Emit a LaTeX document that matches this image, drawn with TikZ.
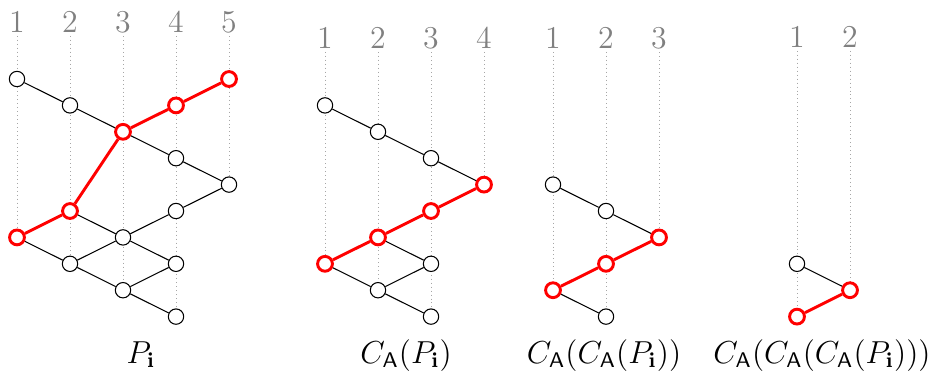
\documentclass[tikz,border=0pt]{standalone}
\usepackage{amsmath}
\begin{document}
\begin{tikzpicture}[x=0.3774pt,y=-0.3774pt,
  vtx/.style={circle,draw=black,fill=white,line width=0.4pt,minimum size=5.8pt,inner sep=0pt},
  vtxr/.style={circle,draw=red,fill=white,line width=1.1pt,minimum size=5.6pt,inner sep=0pt},
  edg/.style={draw=black,line width=0.4pt},
  edgr/.style={draw=red,line width=1.1pt},
  guide/.style={draw=gray!70,line width=0.35pt,dash pattern=on 0.35pt off 1.15pt},
  lbl/.style={text=gray,font=\large,inner sep=1pt},
  captxt/.style={anchor=base,inner sep=0pt,font=\large}]
\useasboundingbox (0,0) rectangle (933,374);
% ---------- Diagram 1 ----------
\foreach \i/\x in {1/17,2/70,3/123,4/176,5/229}{\node[lbl] (La\i) at (\x,22) {\i};}
\coordinate (ga1) at (17,237.4);
\coordinate (ga2) at (70,263.8);
\coordinate (ga3) at (123,290.2);
\coordinate (ga4) at (176,316.6);
\coordinate (ga5) at (229,184.6);
\foreach \i in {1,...,5}{\draw[guide] (La\i.south) -- (ga\i);}
\node[vtx] (a1) at (17,79) {};
\node[vtx] (a2) at (70,105.4) {};
\node[vtxr] (a3) at (123,131.8) {};
\node[vtxr] (a4) at (176,105.4) {};
\node[vtxr] (a5) at (229,79) {};
\node[vtx] (a6) at (176,158.2) {};
\node[vtx] (a7) at (229,184.6) {};
\node[vtx] (a8) at (176,211) {};
\node[vtxr] (a9) at (70,211) {};
\node[vtxr] (a10) at (17,237.4) {};
\node[vtx] (a11) at (123,237.4) {};
\node[vtx] (a12) at (70,263.8) {};
\node[vtx] (a13) at (176,263.8) {};
\node[vtx] (a14) at (123,290.2) {};
\node[vtx] (a15) at (176,316.6) {};
\foreach \u/\v in {a1/a2,a2/a3,a3/a6,a6/a7,a7/a8,a8/a11,a11/a12,a9/a11,a11/a13,a10/a12,a12/a14,a13/a14,a14/a15}{\draw[edg] (\u) -- (\v);}
\foreach \u/\v in {a10/a9,a9/a3,a3/a4,a4/a5}{\draw[edgr] (\u) -- (\v);}
\node[captxt] (ca) at (141,363) {$P_{\mathbf{i}}$};
% ---------- Diagram 2 ----------
\foreach \i/\x in {1/325,2/378,3/431,4/484}{\node[lbl] (Lb\i) at (\x,38) {\i};}
\coordinate (gb1) at (325,263.8);
\coordinate (gb2) at (378,290.2);
\coordinate (gb3) at (431,316.6);
\coordinate (gb4) at (484,184.6);
\foreach \i in {1,...,4}{\draw[guide] (Lb\i.south) -- (gb\i);}
\node[vtx] (b1) at (325,105.4) {};
\node[vtx] (b2) at (378,131.8) {};
\node[vtx] (b3) at (431,158.2) {};
\node[vtxr] (b4) at (484,184.6) {};
\node[vtxr] (b5) at (431,211) {};
\node[vtxr] (b6) at (378,237.4) {};
\node[vtxr] (b7) at (325,263.8) {};
\node[vtx] (b8) at (431,263.8) {};
\node[vtx] (b9) at (378,290.2) {};
\node[vtx] (b10) at (431,316.6) {};
\foreach \u/\v in {b1/b2,b2/b3,b3/b4,b6/b8,b7/b9,b9/b8,b9/b10}{\draw[edg] (\u) -- (\v);}
\foreach \u/\v in {b7/b6,b6/b5,b5/b4}{\draw[edgr] (\u) -- (\v);}
\node[captxt] (cb) at (406,363) {$C_{\mathsf{A}}(P_{\mathbf{i}})$};
% ---------- Diagram 3 ----------
\foreach \i/\x in {1/553,2/606,3/659}{\node[lbl] (Lc\i) at (\x,38) {\i};}
\coordinate (gc1) at (553,290.2);
\coordinate (gc2) at (606,316.6);
\coordinate (gc3) at (659,237.4);
\foreach \i in {1,...,3}{\draw[guide] (Lc\i.south) -- (gc\i);}
\node[vtx] (c1) at (553,184.6) {};
\node[vtx] (c2) at (606,211) {};
\node[vtxr] (c3) at (659,237.4) {};
\node[vtxr] (c4) at (606,263.8) {};
\node[vtxr] (c5) at (553,290.2) {};
\node[vtx] (c6) at (606,316.6) {};
\foreach \u/\v in {c1/c2,c2/c3,c5/c6}{\draw[edg] (\u) -- (\v);}
\foreach \u/\v in {c5/c4,c4/c3}{\draw[edgr] (\u) -- (\v);}
\node[captxt] (cc) at (604,363) {$C_{\mathsf{A}}(C_{\mathsf{A}}(P_{\mathbf{i}}))$};
% ---------- Diagram 4 ----------
\foreach \i/\x in {1/797,2/850}{\node[lbl] (Ld\i) at (\x,37) {\i};}
\coordinate (gd1) at (797,316.6);
\coordinate (gd2) at (850,290.2);
\foreach \i in {1,2}{\draw[guide] (Ld\i.south) -- (gd\i);}
\node[vtx] (d1) at (797,263.8) {};
\node[vtxr] (d2) at (850,290.2) {};
\node[vtxr] (d3) at (797,316.6) {};
\draw[edg] (d1) -- (d2);
\draw[edgr] (d3) -- (d2);
\node[captxt] (cd) at (822,363) {$C_{\mathsf{A}}(C_{\mathsf{A}}(C_{\mathsf{A}}(P_{\mathbf{i}})))$};
\end{tikzpicture}
\end{document}
